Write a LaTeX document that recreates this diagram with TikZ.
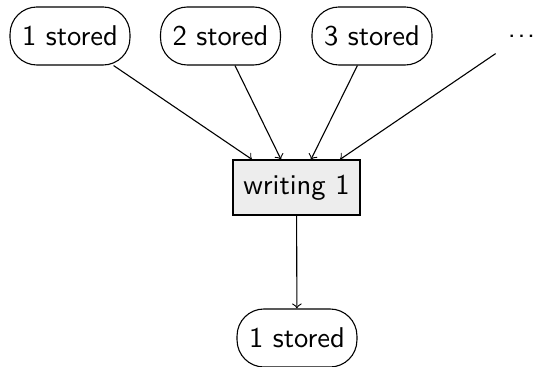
\documentclass[tikz,border=0pt]{standalone}
\usetikzlibrary{calc}
\begin{document}
\begin{tikzpicture}[
    x=0.3636pt, y=-0.3636pt,
    font=\sffamily\fontsize{10.4}{12.5}\selectfont,
    stored/.style={draw, rectangle, rounded corners=9.8pt, inner sep=0pt,
                   minimum width=43.6pt, minimum height=21.1pt},
    writer/.style={draw, rectangle, fill=black!7, inner sep=0pt,
                   minimum width=46.2pt, minimum height=20pt},
    more/.style={rectangle, inner sep=0pt, minimum width=20pt, minimum height=12.4pt},
    flow/.style={->}
  ]
  \useasboundingbox (0,0) rectangle (535,367);

  % inputs on the top row
  \node[stored] (s1) at (70,36) {1 stored};
  \node[stored] (s2) at (220.5,36) {2 stored};
  \node[stored] (s3) at (372,36) {3 stored};
  \node[more] (sn) at (521.5,36) {.\kern0.6pt.\kern0.6pt.};

  % the writer and its output
  \node[writer] (w) at (296.5,187.5) {writing 1};
  \node[stored] (out) at (297,338) {1 stored};

  % entry points along the top edge of the writer
  \coordinate (e1) at ($(w.north)+(-44.5,0)$);
  \coordinate (e2) at ($(w.north)+(-15.5,0)$);
  \coordinate (e3) at ($(w.north)+(14.5,0)$);
  \coordinate (e4) at ($(w.north)+(43.5,0)$);

  \draw[flow] (s1) -- (e1);
  \draw[flow] (s2) -- (e2);
  \draw[flow] (s3) -- (e3);
  \draw[flow] (sn) -- (e4);
  \draw[flow] (w) -- (out);
\end{tikzpicture}
\end{document}
